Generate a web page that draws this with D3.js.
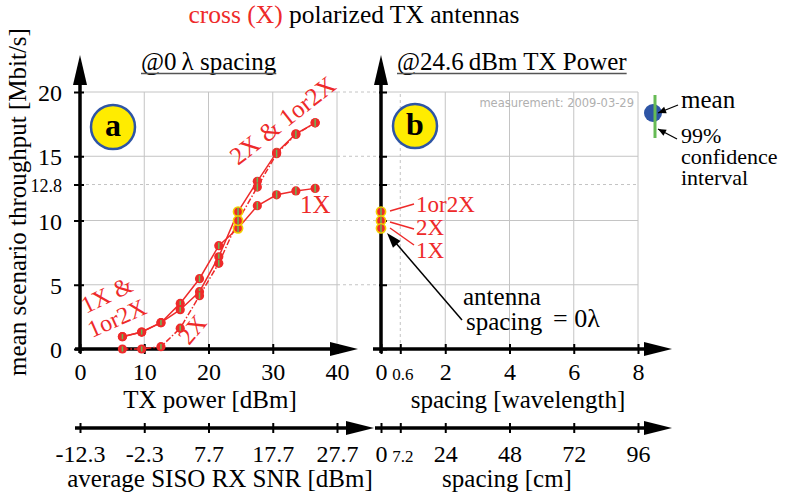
<!DOCTYPE html>
<html><head><meta charset="utf-8">
<script src="https://cdn.jsdelivr.net/npm/d3@7"></script>
<style>
body{margin:0;background:#fff;}
text{font-family:"Liberation Serif","DejaVu Serif",serif;}
</style></head>
<body><svg id="c" width="791" height="494"></svg>
<script>
// ---------- data ----------
const txPower   = [6.6, 9.6, 12.6, 15.6, 18.6, 21.6, 24.6, 27.6, 30.6, 33.6, 36.6];
const tput1X    = [0.96, 1.32, 2.05, 3.55, 5.47, 8.04, 9.39, 11.15, 12.0, 12.3, 12.5];
const tput2X    = [0, 0, 0.18, 1.62, 4.15, 6.67, 9.99, 12.6, 15.2, 16.7, 17.6];
const tput1or2X = [0.96, 1.32, 2.05, 3.06, 4.46, 7.18, 10.69, 13.05, 15.3, 16.75, 17.6];
const ciHalf    = [0.2, 0.2, 0.2, 0.2, 0.25, 0.25, 0.3, 0.3, 0.3, 0.3, 0.3];
const spacingWl = [0];
const b1X = [9.39], b2X = [9.99], b1or2X = [10.69];
const highlightTx = 24.6;
const yTicks = [0, 5, 10, 12.8, 15, 20];
const txTicks = [0, 10, 20, 30, 40];
const snrTicks = [-12.3, -2.3, 7.7, 17.7, 27.7];
const wlTicks = [0, 0.6, 2, 4, 6, 8];
const cmTicks = [0, 7.2, 24, 48, 72, 96];

const RED = "#ee2a2a", GREEN = "#66bb55", YEL = "#f2d200", BLUE = "#2e55a5", GRID = "#c4c4c4";
const FS = 25;
const svg = d3.select("#c");

// ---------- scales ----------
const xL = d3.scaleLinear().domain([0, 40]).range([80, 337]);
const xSnr = d3.scaleLinear().domain([-12.3, 27.7]).range([80, 337]);
const xR = d3.scaleLinear().domain([0, 8]).range([381, 638]);
const xCm = d3.scaleLinear().domain([0, 96]).range([381, 638]);
const y = d3.scaleLinear().domain([0, 20]).range([349, 92]);

// ---------- grid ----------
const grid = svg.append("g");
const solidY = [5, 10, 15, 20];
solidY.forEach(v => grid.append("line").attr("x1", xL(0)).attr("x2", xL(40)).attr("y1", y(v)).attr("y2", y(v)).attr("stroke", GRID));
[10, 20, 30, 40].forEach(v => grid.append("line").attr("x1", xL(v)).attr("x2", xL(v)).attr("y1", y(0)).attr("y2", y(20)).attr("stroke", GRID));
solidY.forEach(v => grid.append("line").attr("x1", xR(0)).attr("x2", xR(8)).attr("y1", y(v)).attr("y2", y(v)).attr("stroke", GRID));
[2, 4, 6, 8].forEach(v => grid.append("line").attr("x1", xR(v)).attr("x2", xR(v)).attr("y1", y(0)).attr("y2", y(20)).attr("stroke", GRID));
grid.append("line").attr("x1", xR(0.6)).attr("x2", xR(0.6)).attr("y1", y(0)).attr("y2", y(20)).attr("stroke", GRID).attr("stroke-dasharray", "3,3");
[5, 10, 12.8, 15, 20].forEach(v => grid.append("line").attr("x1", xL(40)).attr("x2", xR(0)).attr("y1", y(v)).attr("y2", y(v)).attr("stroke", GRID).attr("stroke-dasharray", "3,3"));
grid.append("line").attr("x1", xL(0)).attr("x2", xL(40)).attr("y1", y(12.8)).attr("y2", y(12.8)).attr("stroke", GRID).attr("stroke-dasharray", "3,3");
grid.append("line").attr("x1", xR(0)).attr("x2", xR(8)).attr("y1", y(12.8)).attr("y2", y(12.8)).attr("stroke", GRID).attr("stroke-dasharray", "3,3");

// ---------- axes ----------
const AX = 3.5;
function hArrowAxis(x0, tip, yy) {
  svg.append("line").attr("x1", x0).attr("x2", tip - 20).attr("y1", yy).attr("y2", yy).attr("stroke", "#000").attr("stroke-width", AX);
  svg.append("path").attr("d", `M${tip},${yy} L${tip - 28},${yy - 7} L${tip - 28},${yy + 7} Z`).attr("fill", "#000");
}
function vArrowAxis(xx, y0, tip) {
  svg.append("line").attr("x1", xx).attr("x2", xx).attr("y1", y0).attr("y2", tip + 20).attr("stroke", "#000").attr("stroke-width", AX);
  svg.append("path").attr("d", `M${xx},${tip} L${xx - 7},${tip + 30} L${xx + 7},${tip + 30} Z`).attr("fill", "#000");
}
function bottomTicks(scale, vals, yy, small, labelY) {
  const g = svg.append("g").attr("transform", `translate(0,${yy})`)
    .call(d3.axisBottom(scale).tickValues(vals).tickSize(5).tickPadding(0).tickFormat(d => String(d)));
  g.select(".domain").remove();
  g.selectAll(".tick line").attr("y1", -5).attr("y2", 5).attr("stroke", "#000").attr("stroke-width", 2);
  g.selectAll(".tick text").attr("y", labelY).attr("dy", 0).attr("fill", "#000")
    .style("font-family", '"Liberation Serif",serif')
    .style("font-size", d => small.includes(d) ? "17px" : "24px");
  return g;
}
hArrowAxis(75, 358, 349);
hArrowAxis(373, 672, 349);
vArrowAxis(80, 353, 55);
vArrowAxis(381, 353, 55);
hArrowAxis(75, 374, 428);
hArrowAxis(375, 672, 428);

bottomTicks(xL, txTicks, 349, [], 31);
const gw = bottomTicks(xR, wlTicks, 349, [0.6], 31);
gw.selectAll(".tick text").filter(d => d === 0.6).attr("x", 2);
bottomTicks(xSnr, snrTicks, 428, [], 34);
const gc = bottomTicks(xCm, cmTicks, 428, [7.2], 34);
gc.selectAll(".tick text").filter(d => d === 7.2).attr("x", 2);

const gy = svg.append("g").attr("transform", "translate(80,0)")
  .call(d3.axisLeft(y).tickValues(yTicks).tickSize(5).tickPadding(13).tickFormat(d => String(d)));
gy.select(".domain").remove();
gy.selectAll(".tick line").attr("x1", -6).attr("x2", 4).attr("stroke", "#000").attr("stroke-width", 2);
gy.selectAll(".tick text").attr("fill", "#000").attr("dy", "0.36em")
  .style("font-family", '"Liberation Serif",serif')
  .style("font-size", d => d === 12.8 ? "18px" : "24px");
const gy2 = svg.append("g").attr("transform", "translate(381,0)")
  .call(d3.axisRight(y).tickValues(yTicks).tickSize(6).tickFormat(""));
gy2.select(".domain").remove();
gy2.selectAll(".tick line").attr("x1", -2).attr("stroke", "#000").attr("stroke-width", 2);

function txt(x, yy, s, opts = {}) {
  const t = svg.append("text").attr("x", x).attr("y", yy).text(s)
    .attr("font-size", opts.size || FS).attr("fill", opts.fill || "#000")
    .attr("text-anchor", opts.anchor || "start");
  if (opts.rot !== undefined) t.attr("transform", `rotate(${opts.rot},${x},${yy})`);
  if (opts.family) t.style("font-family", opts.family);
  return t;
}
txt(210, 408, "TX power [dBm]", {anchor: "middle"});
txt(220, 487, "average SISO RX SNR [dBm]", {anchor: "middle"});
txt(518, 408, "spacing [wavelength]", {anchor: "middle"});
txt(507, 487, "spacing [cm]", {anchor: "middle"});
txt(26, 202, "mean scenario throughput [Mbit/s]", {anchor: "middle", rot: -90});

const tt = svg.append("text").attr("x", 354).attr("y", 23).attr("text-anchor", "middle").attr("font-size", 25.5);
tt.append("tspan").attr("fill", RED).text("cross (X)");
tt.append("tspan").attr("fill", "#000").text(" polarized TX antennas");

function underlined(x, yy, s) {
  const t = txt(x, yy, s, {size: FS});
  const w = t.node().getComputedTextLength();
  svg.append("line").attr("x1", x).attr("x2", x + w).attr("y1", yy + 3.5).attr("y2", yy + 3.5).attr("stroke", "#555").attr("stroke-width", 1.5);
}
underlined(141, 70, "@0\u2009λ spacing");
underlined(397, 70, "@24.6\u2009dBm TX Power");

function badge(cx, cy, s) {
  svg.append("circle").attr("cx", cx).attr("cy", cy).attr("r", 22).attr("fill", "#ffec00").attr("stroke", BLUE).attr("stroke-width", 2.5);
  txt(cx, cy + 9, s, {anchor: "middle", size: 32}).attr("font-weight", "bold");
}
badge(113, 127, "a");
badge(415, 126, "b");

txt(634, 107, "measurement: 2009-03-29", {anchor: "end", size: 11.5, fill: "#b0b0b0", family: '"DejaVu Sans",sans-serif'});

// ---------- series ----------
const series = [
  {vals: tput1X, dash: null},
  {vals: tput1or2X, dash: null},
  {vals: tput2X, dash: "6,2,1.5,2"}
];
const line = d3.line().x(d => xL(d[0])).y(d => y(d[1]));
const gs = svg.append("g");
series.forEach(s => {
  const pts = txPower.map((t, i) => [t, s.vals[i]]);
  gs.append("path").attr("d", line(pts)).attr("fill", "none").attr("stroke", RED).attr("stroke-width", 1.5)
    .attr("stroke-dasharray", s.dash);
});
function drawPoint(cx, v, ci, hl) {
  gs.append("circle").attr("cx", cx).attr("cy", y(v)).attr("r", 4.6).attr("fill", RED)
    .attr("stroke", hl ? YEL : "none").attr("stroke-width", hl ? 1.6 : 0);
  gs.append("line").attr("x1", cx).attr("x2", cx).attr("y1", y(v - ci)).attr("y2", y(v + ci)).attr("stroke", GREEN).attr("stroke-width", 1.5);
}
series.forEach(s => txPower.forEach((t, i) => drawPoint(xL(t), s.vals[i], ciHalf[i], t === highlightTx)));
const ci24 = ciHalf[txPower.indexOf(highlightTx)];
[b1or2X, b2X, b1X].forEach(arr => spacingWl.forEach((w, i) => drawPoint(xR(w), arr[i], ci24, true)));

// series labels panel a
txt(86, 314, "1X &", {fill: RED, size: 24, rot: -26});
txt(92, 338, "1or2X", {fill: RED, size: 24, rot: -24});
txt(238, 166, "2X & 1or2X", {fill: RED, size: 25, rot: -38});
txt(189, 346, "2X", {fill: RED, size: 24, rot: -50});
txt(300, 213, "1X", {fill: RED, size: 25});

// labels panel b
[[211, 204, "1or2X", 212], [222, 229, "2X", 235], [228, 245, "1X", 258]].forEach(([y1, y2, s, by]) => {
  svg.append("line").attr("x1", 390).attr("y1", y1).attr("x2", 414).attr("y2", y2).attr("stroke", RED).attr("stroke-width", 1.5);
  txt(416, by, s, {fill: RED, size: 23});
});

// annotation arrow
svg.append("line").attr("x1", 462).attr("y1", 320).attr("x2", 395).attr("y2", 242).attr("stroke", "#000").attr("stroke-width", 1.5);
{
  const ang = Math.atan2(242 - 320, 395 - 462);
  const tx = 387, ty = 233, L = 15, W = 5;
  const bx = tx - L * Math.cos(ang), by = ty - L * Math.sin(ang);
  const px = -Math.sin(ang) * W, py = Math.cos(ang) * W;
  svg.append("path").attr("d", `M${tx},${ty} L${bx + px},${by + py} L${bx - px},${by - py} Z`).attr("fill", "#000");
}
txt(463, 305, "antenna", {size: 25});
txt(466, 330, "spacing", {size: 25});
txt(553, 327, "= 0λ", {size: 26});

// ---------- legend ----------
svg.append("circle").attr("cx", 653).attr("cy", 113).attr("r", 9).attr("fill", BLUE);
svg.append("line").attr("x1", 655).attr("x2", 655).attr("y1", 95).attr("y2", 138).attr("stroke", GREEN).attr("stroke-width", 3);
function smallArrow(x1, y1, x2, y2) {
  svg.append("line").attr("x1", x1).attr("y1", y1).attr("x2", x2).attr("y2", y2).attr("stroke", "#000").attr("stroke-width", 1.3);
  const ang = Math.atan2(y2 - y1, x2 - x1), L = 8, W = 3.5;
  const bx = x2 - L * Math.cos(ang), by = y2 - L * Math.sin(ang);
  const px = -Math.sin(ang) * W, py = Math.cos(ang) * W;
  svg.append("path").attr("d", `M${x2},${y2} L${bx + px},${by + py} L${bx - px},${by - py} Z`).attr("fill", "#000");
}
smallArrow(678, 105, 658, 113);
smallArrow(677, 139, 658, 129);
txt(681, 108, "mean", {size: 25});
txt(681, 143, "99%", {size: 22});
txt(681, 164, "confidence", {size: 22});
txt(681, 185, "interval", {size: 22});
</script></body></html>
